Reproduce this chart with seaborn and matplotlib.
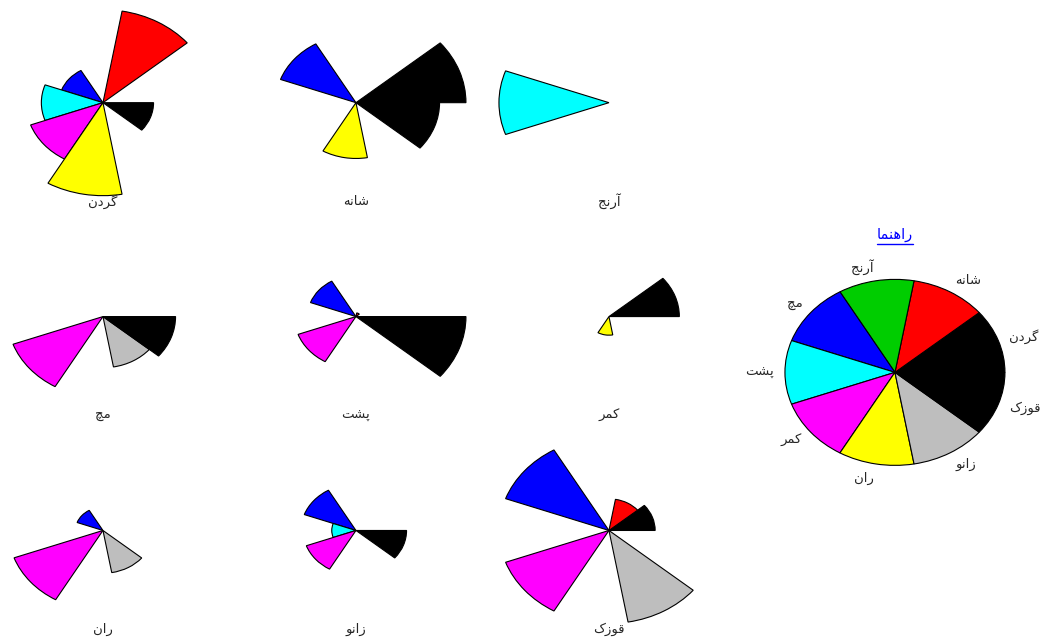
import numpy as np
import matplotlib
matplotlib.use("Agg")
import matplotlib.pyplot as plt
from matplotlib.patches import Wedge
import seaborn as sns

# body parts (variables and stars share the same names)
parts = ["گردن", "شانه", "آرنج", "مچ", "پشت", "کمر", "ران", "زانو", "قوزک"]
key_title = "راهنما"

# R palette 1..8, then wraps to black for the 9th segment
seg_colors = ["#000000", "#FF0000", "#00CD00", "#0000FF", "#00FFFF",
              "#FF00FF", "#FFFF00", "#BEBEBE", "#000000"]

# scaled segment lengths for each star (column order = parts)
neck = [0, 1.0, 0, 0.40, 0.56, 0.70, 1.0, 0, 0.46]
shoulder = [1.0, 0, 0, 0.73, 0, 0, 0.60, 0, 0.76]
elbow = [0, 0, 0, 0, 1.0, 0, 0, 0, 0]
wrist = [0, 0, 0, 0, 0, 0.87, 0, 0.55, 0.66]
back = [0, 0.04, 0, 0.44, 0, 0.56, 0, 0, 1.0]
waist = [0.64, 0, 0, 0, 0, 0, 0.20, 0, 0]
thigh = [0, 0, 0, 0.25, 0, 0.86, 0, 0.46, 0]
knee = [0, 0, 0, 0.50, 0.22, 0.48, 0, 0, 0.46]
ankle = [0.42, 0.34, 0, 1.0, 0, 1.0, 0, 1.0, 0]
stars = [neck, shoulder, elbow, wrist, back, waist, thigh, knee, ankle]

# minimal persian shaping (matplotlib has no complex text layout)
FORMS = {
    "ا": ("\uFE8D", "\uFE8E"), "آ": ("\uFE81", "\uFE82"),
    "د": ("\uFEA9", "\uFEAA"), "ر": ("\uFEAD", "\uFEAE"),
    "ز": ("\uFEAF", "\uFEB0"), "و": ("\uFEED", "\uFEEE"),
    "ن": ("\uFEE5", "\uFEE6", "\uFEE7", "\uFEE8"),
    "ش": ("\uFEB5", "\uFEB6", "\uFEB7", "\uFEB8"),
    "ه": ("\uFEE9", "\uFEEA", "\uFEEB", "\uFEEC"),
    "ج": ("\uFE9D", "\uFE9E", "\uFE9F", "\uFEA0"),
    "م": ("\uFEE1", "\uFEE2", "\uFEE3", "\uFEE4"),
    "ت": ("\uFE95", "\uFE96", "\uFE97", "\uFE98"),
    "ق": ("\uFED5", "\uFED6", "\uFED7", "\uFED8"),
    "گ": ("\uFB92", "\uFB93", "\uFB94", "\uFB95"),
    "چ": ("\uFB7A", "\uFB7B", "\uFB7C", "\uFB7D"),
    "پ": ("\uFB56", "\uFB57", "\uFB58", "\uFB59"),
    "ک": ("\uFB8E", "\uFB8F", "\uFB90", "\uFB91"),
}


def shape_fa(word):
    out = []
    for i, ch in enumerate(word):
        f = FORMS.get(ch)
        if f is None:
            out.append(ch)
            continue
        prev_joins = i > 0 and len(FORMS.get(word[i - 1], ())) == 4
        next_joins = len(f) == 4 and i < len(word) - 1 and word[i + 1] in FORMS
        if prev_joins and next_joins:
            out.append(f[3])
        elif prev_joins:
            out.append(f[1])
        elif next_joins:
            out.append(f[2])
        else:
            out.append(f[0])
    return "".join(reversed(out))


sns.set_style("white")
plt.rcParams["font.family"] = ["DejaVu Sans"]

fig = plt.figure(figsize=(10.44, 6.39), dpi=100)
ax = fig.add_axes([0, 0, 1, 1])
ax.set_xlim(-0.936, 8.555)
ax.set_ylim(-5.767, 1.104)
ax.axis("off")

n_seg = len(parts)
step = 360.0 / n_seg
spacing = 2.3

for k, vals in enumerate(stars):
    cx = spacing * (k % 3)
    cy = -spacing * (k // 3)
    for j, v in enumerate(vals):
        if v <= 0:
            continue
        ax.add_patch(Wedge((cx, cy), v, j * step, (j + 1) * step,
                           facecolor=seg_colors[j], edgecolor="black", lw=0.8))
    ax.text(cx, cy - 1.06, shape_fa(parts[k]), ha="center", va="center", fontsize=9.5)

# key
kx, ky = 7.2, -2.9
for j in range(n_seg):
    ax.add_patch(Wedge((kx, ky), 1.0, j * step, (j + 1) * step,
                       facecolor=seg_colors[j], edgecolor="black", lw=0.8))
    a = (j + 0.5) * step
    lx = kx + 1.1 * np.cos(np.radians(a))
    ly = ky + 1.1 * np.sin(np.radians(a))
    if 90 < a < 270:
        ha = "right"
    elif a in (90, 270):
        ha = "center"
    else:
        ha = "left"
    if a <= 90:
        vadj = (1 - a / 90) / 2
    elif a <= 270:
        vadj = (a - 90) / 180
    else:
        vadj = 1 - (a - 270) / 180
    ly += (0.5 - vadj) * 0.12
    ax.text(lx, ly, shape_fa(parts[j]), ha=ha, va="center", fontsize=9.5)

title = ax.text(kx, ky + 1.48, shape_fa(key_title), ha="center", va="center",
                fontsize=10.5, color="blue")
fig.canvas.draw()
bb = title.get_window_extent().transformed(ax.transData.inverted())
ax.plot([bb.x0, bb.x1], [bb.y0 - 0.02, bb.y0 - 0.02], color="blue", lw=1)

fig.savefig("out.png", dpi=100)
